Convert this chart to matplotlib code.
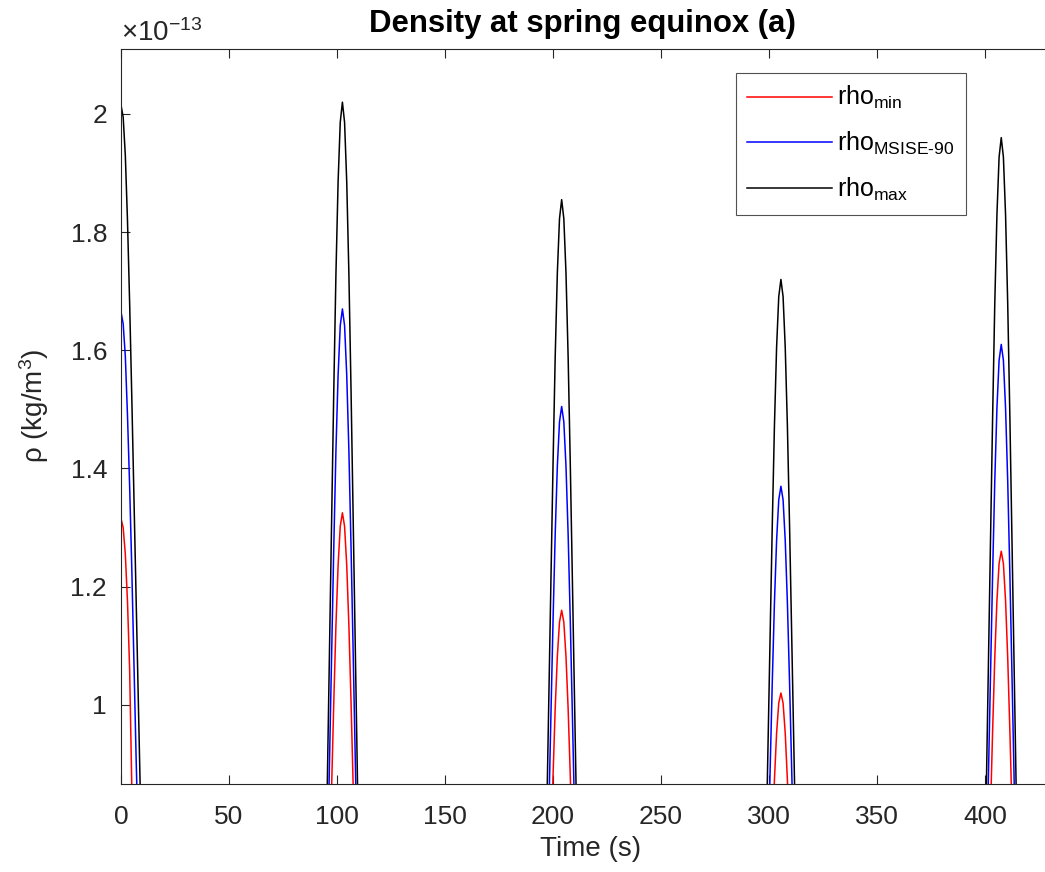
import matplotlib
matplotlib.use("Agg")
import matplotlib.pyplot as plt
from matplotlib.ticker import FuncFormatter

plt.rcParams['font.family'] = ['Liberation Sans', 'DejaVu Sans']
plt.rcParams['mathtext.fontset'] = 'custom'
plt.rcParams['mathtext.rm'] = 'Liberation Sans'
plt.rcParams['mathtext.it'] = 'Liberation Sans:italic'
plt.rcParams['mathtext.bf'] = 'Liberation Sans:bold'

# Time samples around each pass (s)
time_s = [0, 1, 2, 3, 4, 5, 7, 9, 11,
          93.5, 95.5, 97.5, 98.5, 99.5, 100.5, 101.5, 102.5, 103.5, 104.5, 105.5, 106.5, 107.5, 109.5, 111.5,
          195, 197, 199, 200, 201, 202, 203, 204, 205, 206, 207, 208, 209, 211, 213,
          296.5, 298.5, 300.5, 301.5, 302.5, 303.5, 304.5, 305.5, 306.5, 307.5, 308.5, 309.5, 310.5, 312.5, 314.5,
          398.5, 400.5, 402.5, 403.5, 404.5, 405.5, 406.5, 407.5, 408.5, 409.5, 410.5, 411.5, 412.5, 414.5, 416.5]

# Density values in units of 1e-13 kg/m^3
rho_min = [1.315, 1.300, 1.255, 1.175, 1.060, 0.860, 0.570, 0.330, 0.200,
           0.326, 0.567, 0.860, 1.004, 1.134, 1.236, 1.302, 1.325, 1.302, 1.236, 1.134, 1.004, 0.860, 0.567, 0.326,
           0.285, 0.496, 0.753, 0.879, 0.993, 1.082, 1.140, 1.160, 1.140, 1.082, 0.993, 0.879, 0.753, 0.496, 0.285,
           0.251, 0.437, 0.662, 0.773, 0.873, 0.952, 1.003, 1.020, 1.003, 0.952, 0.873, 0.773, 0.662, 0.437, 0.251,
           0.310, 0.539, 0.818, 0.955, 1.079, 1.176, 1.239, 1.260, 1.239, 1.176, 1.079, 0.955, 0.818, 0.539, 0.310]

rho_msise = [1.665, 1.645, 1.590, 1.490, 1.370, 1.230, 0.910, 0.620, 0.400,
             0.411, 0.715, 1.084, 1.266, 1.430, 1.558, 1.642, 1.670, 1.642, 1.558, 1.430, 1.266, 1.084, 0.715, 0.411,
             0.370, 0.644, 0.977, 1.141, 1.288, 1.404, 1.479, 1.505, 1.479, 1.404, 1.288, 1.141, 0.977, 0.644, 0.370,
             0.337, 0.586, 0.889, 1.038, 1.173, 1.278, 1.347, 1.370, 1.347, 1.278, 1.173, 1.038, 0.889, 0.586, 0.337,
             0.396, 0.689, 1.045, 1.220, 1.378, 1.502, 1.583, 1.610, 1.583, 1.502, 1.378, 1.220, 1.045, 0.689, 0.396]

rho_max = [2.015, 1.995, 1.930, 1.820, 1.680, 1.520, 1.180, 0.840, 0.550,
           0.497, 0.865, 1.311, 1.531, 1.729, 1.885, 1.986, 2.020, 1.986, 1.885, 1.729, 1.531, 1.311, 0.865, 0.497,
           0.456, 0.794, 1.204, 1.406, 1.588, 1.731, 1.823, 1.855, 1.823, 1.731, 1.588, 1.406, 1.204, 0.794, 0.456,
           0.423, 0.736, 1.116, 1.304, 1.472, 1.605, 1.691, 1.720, 1.691, 1.605, 1.472, 1.304, 1.116, 0.736, 0.423,
           0.482, 0.839, 1.272, 1.486, 1.678, 1.829, 1.927, 1.960, 1.927, 1.829, 1.678, 1.486, 1.272, 0.839, 0.482]

axcol = '#262626'

fig = plt.figure(figsize=(10.45, 8.72), dpi=100)
# axes run a little past the right edge of the figure, as in the cropped original
ax = fig.add_axes([121 / 1045, 1 - 784 / 872, 939 / 1045, 735 / 872])

ax.plot(time_s, rho_min, color='#ff0000', lw=1.1, label=r'rho$_{\mathrm{min}}$')
ax.plot(time_s, rho_msise, color='#0000ff', lw=1.1, label=r'rho$_{\mathrm{MSISE\text{-}90}}$')
ax.plot(time_s, rho_max, color='#000000', lw=1.1, label=r'rho$_{\mathrm{max}}$')

ax.set_xlim(0, 434.7)
ax.set_ylim(0.866, 2.11)
ax.set_xticks([0, 50, 100, 150, 200, 250, 300, 350, 400])
ax.set_yticks([1, 1.2, 1.4, 1.6, 1.8, 2])
ax.yaxis.set_major_formatter(FuncFormatter(lambda v, p: f'{v:g}'))
ax.tick_params(direction='in', length=6.5, width=0.8, colors=axcol, labelsize=19,
               top=True, right=True)
ax.tick_params(axis='x', pad=15)
ax.tick_params(axis='y', pad=10)
for s in ax.spines.values():
    s.set_color(axcol)
    s.set_linewidth(0.8)
ax.spines['right'].set_visible(False)

ax.text(0.0, 1.003, r'$\times10^{-13}$', transform=ax.transAxes, fontsize=20,
        color=axcol, ha='left', va='bottom')
ax.set_title('Density at spring equinox (a)', fontsize=22.4, fontweight='bold', pad=12, x=0.491)
ax.set_xlabel('Time (s)', fontsize=20, color=axcol, labelpad=5)
ax.set_ylabel(r'ρ (kg/m$^{3}$)', fontsize=20, color=axcol)
ax.yaxis.set_label_coords(-0.075 * 928 / 939, 0.515)

leg = ax.legend(loc='upper right', bbox_to_anchor=((966 - 121) / 939, (784 - 73) / 735),
                fontsize=18, frameon=True, fancybox=False, handlelength=3.4, borderpad=0.45,
                labelspacing=0.75, handletextpad=0.2, borderaxespad=0)
leg.get_frame().set_edgecolor(axcol)
leg.get_frame().set_linewidth(0.8)

plt.savefig('out.png', dpi=100)
